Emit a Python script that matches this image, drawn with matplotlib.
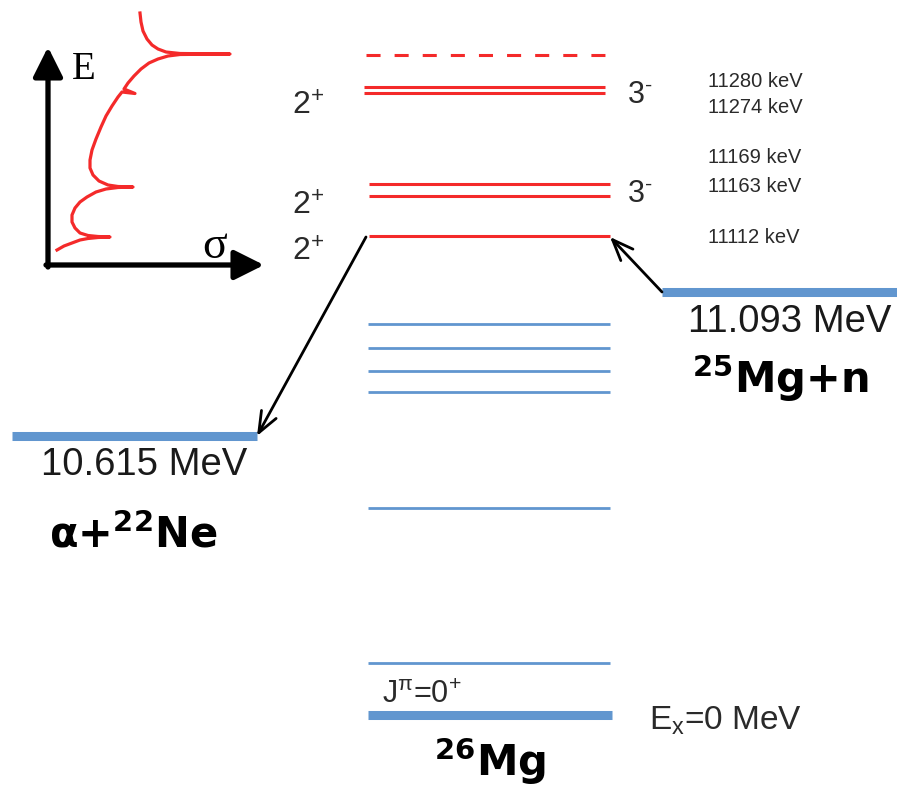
import numpy as np
import matplotlib
matplotlib.use("Agg")
import matplotlib.pyplot as plt

plt.rcParams.update({
    "font.family": ["Liberation Sans", "DejaVu Sans"],
    "mathtext.fontset": "custom",
    "mathtext.rm": "Liberation Sans",
    "mathtext.it": "Liberation Sans:italic",
    "mathtext.bf": "Liberation Sans:bold",
    "mathtext.sf": "Liberation Sans",
    "mathtext.default": "regular",
})

RED = "#f42a2a"
BLUE = "#6196cf"
GREY = "#2a2a2a"

# diagram units = pixel rows of the level scheme (y grows downward, not to scale)
# 26Mg resonances above the alpha threshold
res_kev = [11280, 11274, 11169, 11163, 11112]
res_y = [87, 93, 184, 196, 236]
res_x0 = [364, 364, 369, 369, 369]
res_x1 = [605, 605, 610, 610, 610]
kev_lab_y = [87, 113, 163, 192, 243]
tentative_y = 55

spin_plus_y = [115, 215, 261]      # 2+ labels
spin_minus_y = [103, 202]          # 3- labels

# bound states and ground state
bound_y = [324, 348, 371, 392, 508, 663]
ground_y = 715

# particle thresholds
thr_names = [r"α+$^{22}$Ne", r"$^{25}$Mg+n"]
thr_energy = ["10.615 MeV", "11.093 MeV"]
thr_y = [436, 292]
thr_x0 = [12, 662]
thr_x1 = [257, 897]

# sketch of cross section vs energy (inset)
sig_pts = [140, 141, 143, 147, 152, 158, 166, 180, 230, 180, 168, 158, 149, 141, 134, 128,
           124, 135, 122, 118, 112, 106, 101, 96, 92, 90, 90, 93, 99, 108, 118, 133,
           118, 106, 96, 87, 80, 75, 72, 72, 75, 80, 88, 98, 110, 98, 88, 80, 72, 64, 57]
e_pts = [13, 22, 31, 39, 45, 49, 52, 53.5, 54, 54.5, 56, 59, 63, 69, 76, 83,
         89, 93.5, 92, 97, 106, 116, 127, 139, 150, 160, 168, 175, 181, 185, 186.5, 187,
         187.5, 189, 192, 197, 202, 208, 215, 222, 228, 233, 235.5, 236.5, 237, 237.5, 238.5, 240, 243, 246, 250]

fig = plt.figure(figsize=(8.97, 7.87), dpi=100)
ax = fig.add_axes([0, 0, 1, 1])
ax.set_xlim(0, 897)
ax.set_ylim(787, 0)
ax.axis("off")

# red resonances
ax.plot([366, 605], [tentative_y, tentative_y], color=RED, lw=2.2, ls=(0, (4.6, 4.6)))
for y, x0, x1 in zip(res_y, res_x0, res_x1):
    ax.plot([x0, x1], [y, y], color=RED, lw=2.2, solid_capstyle="butt")
for kev, y in zip(res_kev, kev_lab_y):
    ax.text(708, y, f"{kev} keV", fontsize=14.5, color=GREY, va="baseline", ha="left")

for y in spin_plus_y:
    ax.text(292, y, r"2$^{+}$", fontsize=23, color=GREY, va="baseline", ha="left")
for y in spin_minus_y:
    ax.text(627, y, r"3$^{\text{-}}$", fontsize=22, color=GREY, va="baseline", ha="left")

# blue states
for y in bound_y:
    ax.plot([368, 610], [y, y], color=BLUE, lw=2.0, solid_capstyle="butt")
ax.plot([368, 612], [ground_y, ground_y], color=BLUE, lw=6.5, solid_capstyle="butt")
ax.text(382, 703, r"J$^{π}$=0$^{+}$", fontsize=22, color=GREY, va="baseline")
ax.text(649, 730, r"E$_{x}$=0 MeV", fontsize=24, color=GREY, va="baseline")

bold = dict(family="DejaVu Sans", fontweight="bold", va="baseline", ha="center")
ax.text(490, 776, r"$^{26}$Mg", fontsize=30, **bold)

# thresholds
for y, x0, x1 in zip(thr_y, thr_x0, thr_x1):
    ax.plot([x0, x1], [y, y], color=BLUE, lw=6.5, solid_capstyle="butt")
ax.text(144, 475, thr_energy[0], fontsize=27.5, color="#1a1a1a", ha="center", va="baseline")
ax.text(790, 332, thr_energy[1], fontsize=27.5, color="#1a1a1a", ha="center", va="baseline")
ax.text(133, 547, thr_names[0], fontsize=30, **bold)
ax.text(780, 393, thr_names[1], fontsize=30, **bold)

# arrows from thresholds to the 11112 keV level
arw = dict(arrowstyle="->,head_length=0.75,head_width=0.3", color="black", lw=2.0,
           shrinkA=0, shrinkB=0, mutation_scale=20)
ax.annotate("", xy=(thr_x1[0], thr_y[0]), xytext=(res_x0[4] - 3, res_y[4] + 1), arrowprops=arw)
ax.annotate("", xy=(res_x1[4], res_y[4] + 1), xytext=(thr_x0[1], thr_y[1]), arrowprops=arw)

# inset: sigma vs E
axarw = dict(arrowstyle="-|>,head_length=0.9,head_width=0.45", color="black", lw=3.8,
             shrinkA=0, shrinkB=0, mutation_scale=20)
ax.annotate("", xy=(48, 47), xytext=(48, 267), arrowprops=axarw)
ax.annotate("", xy=(264, 265), xytext=(46, 265), arrowprops=axarw)
ax.plot(sig_pts, e_pts, color=RED, lw=2.3, solid_joinstyle="round")
ax.text(72, 79, "E", fontsize=28, family="Liberation Serif", va="baseline")
ax.text(202, 258, "σ", fontsize=33, family="Liberation Serif", va="baseline")

fig.savefig("out.png", dpi=100)
